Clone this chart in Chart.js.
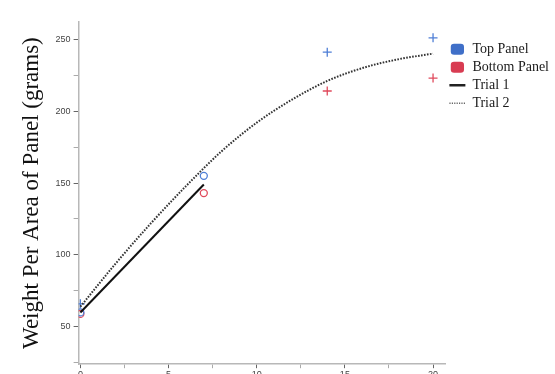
<!DOCTYPE html>
<html>
<head>
<meta charset="utf-8">
<script src="https://cdn.jsdelivr.net/npm/chart.js@4.4.0/dist/chart.umd.min.js"></script>
<style>
  html, body { margin: 0; padding: 0; background: #fff; overflow: hidden; }
  #wrap { position: relative; width: 555px; height: 381px; }
</style>
</head>
<body>
<div id="wrap"><canvas id="panelChart"></canvas></div>
<script>
// Trial 1 measurements (circles)
const trial1X = [0, 7];
const topTrial1 = [60, 155];
const bottomTrial1 = [59, 143];

// Trial 2 measurements (crosses)
const trial2X = [0, 14, 20];
const topTrial2 = [66, 241, 251];
const bottomTrial2 = [null, 214, 223];

// fitted lines
const fit1X = [0, 7];
const fit1Y = [60, 149];
const fit2X = [0, 2, 4, 6, 8, 10, 12, 14, 16, 18, 20];
const fit2Y = [64, 94, 122, 148, 172, 192, 208, 221, 230, 236, 240];

// axis ticks
const xTicks = [0, 2.5, 5, 7.5, 10, 12.5, 15, 17.5, 20];
const xLabels = [0, 5, 10, 15, 20];
const yTicks = [25, 50, 75, 100, 125, 150, 175, 200, 225, 250];
const yLabels = [50, 100, 150, 200, 250];

const BLUE = '#4f7fd6';
const RED = '#e04a5c';
const AXIS = '#b8b8b8';
const SERIF = '"Liberation Serif", "Times New Roman", serif';

const pts = (xs, ys) => xs.map((x, i) => ({ x, y: ys[i] }));

const markerSet = (label, xs, ys, color, style) => ({
  label,
  data: pts(xs, ys),
  showLine: false,
  pointStyle: style,
  pointRadius: style === 'cross' ? 4.5 : 3.5,
  pointBorderColor: color,
  pointBackgroundColor: 'rgba(0,0,0,0)',
  pointBorderWidth: 1.3,
});

new Chart(document.getElementById('panelChart'), {
  type: 'scatter',
  data: {
    datasets: [
      {
        label: 'Trial 2',
        data: pts(fit2X, fit2Y),
        showLine: true,
        borderColor: '#333',
        borderWidth: 2,
        borderDash: [1.6, 1.4],
        pointRadius: 0,
        cubicInterpolationMode: 'monotone',
      },
      {
        label: 'Trial 1',
        data: pts(fit1X, fit1Y),
        showLine: true,
        borderColor: '#111',
        borderWidth: 2,
        pointRadius: 0,
      },
      markerSet('Top Panel', trial1X, topTrial1, BLUE, 'circle'),
      markerSet('Bottom Panel', trial1X, bottomTrial1, RED, 'circle'),
      markerSet('Top Panel +', trial2X, topTrial2, BLUE, 'cross'),
      markerSet('Bottom Panel +', trial2X, bottomTrial2, RED, 'cross'),
    ],
  },
  options: {
    responsive: true,
    maintainAspectRatio: false,
    animation: false,
    layout: { padding: { top: 22, left: 18, right: -4, bottom: 0 } },
    plugins: {
      tooltip: { enabled: false },
      legend: {
        position: 'right',
        align: 'start',
        title: { display: true, text: ' ', font: { size: 1 }, padding: { top: 15, bottom: 0 } },
        labels: {
          usePointStyle: true,
          pointStyleWidth: 16,
          boxHeight: 9,
          padding: 4,
          color: '#1a1a1a',
          font: { family: SERIF, size: 14 },
          generateLabels: () => [
            { text: 'Top Panel', fontColor: '#1a1a1a', pointStyle: 'rectRounded', fillStyle: '#3f6fc8', strokeStyle: '#3f6fc8', lineWidth: 0 },
            { text: 'Bottom Panel', fontColor: '#1a1a1a', pointStyle: 'rectRounded', fillStyle: '#d83c52', strokeStyle: '#d83c52', lineWidth: 0 },
            { text: 'Trial 1', fontColor: '#1a1a1a', pointStyle: 'line', fillStyle: '#222', strokeStyle: '#222', lineWidth: 2.5 },
            { text: 'Trial 2', fontColor: '#1a1a1a', pointStyle: 'line', fillStyle: '#666', strokeStyle: '#666', lineWidth: 1.5, lineDash: [1.2, 1.2] },
          ],
        },
      },
    },
    scales: {
      x: {
        type: 'linear',
        min: -0.1,
        max: 20.7,
        afterBuildTicks: (axis) => { axis.ticks = xTicks.map((v) => ({ value: v })); },
        border: { color: AXIS, width: 1.5 },
        grid: {
          drawOnChartArea: false,
          tickLength: 4,
          tickColor: (c) => (xLabels.includes(c.tick.value) ? '#666' : '#aaa'),
        },
        ticks: {
          autoSkip: false,
          maxRotation: 0,
          padding: 1,
          color: '#444',
          font: { family: '"Liberation Sans", Arial, sans-serif', size: 9 },
          callback: (v) => (xLabels.includes(v) ? String(v) : ''),
        },
      },
      y: {
        min: 24,
        max: 262,
        afterBuildTicks: (axis) => { axis.ticks = yTicks.map((v) => ({ value: v })); },
        border: { color: AXIS, width: 1.5 },
        grid: {
          drawOnChartArea: false,
          tickLength: 5,
          tickColor: (c) => (yLabels.includes(c.tick.value) ? '#666' : '#aaa'),
        },
        ticks: {
          autoSkip: false,
          padding: 3,
          color: '#444',
          font: { family: '"Liberation Sans", Arial, sans-serif', size: 9 },
          callback: (v) => (yLabels.includes(v) ? String(v) : ''),
        },
        title: {
          display: true,
          text: 'Weight Per Area of Panel (grams)',
          color: '#111',
          padding: { top: 0, bottom: 7 },
          font: { family: SERIF, size: 23 },
        },
      },
    },
  },
});
</script>
</body>
</html>
